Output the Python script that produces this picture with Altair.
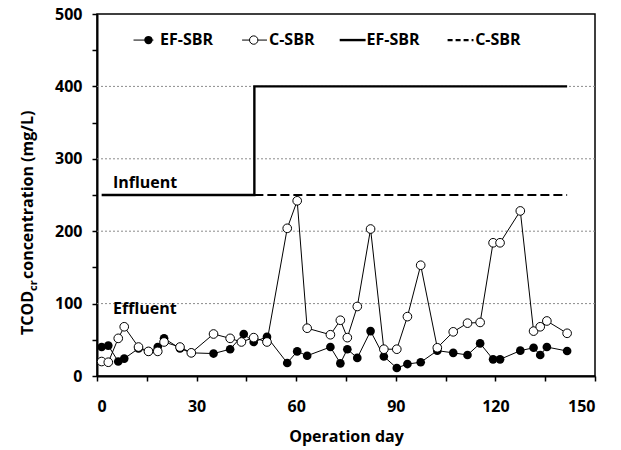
import altair as alt
import pandas as pd

# ---- data ----
ef_days = [1.4, 3.4, 6.4, 8.2, 12.5, 15.5, 18.3, 20.2, 25.0, 28.4, 35.1, 40.1, 44.2, 47.2, 51.2,
           57.3, 60.3, 63.3, 70.3, 73.3, 75.4, 78.4, 82.4, 86.4, 90.3, 93.5, 97.5, 102.5, 107.3,
           111.6, 115.4, 119.3, 121.4, 127.5, 131.5, 133.5, 135.5, 141.6]
ef_vals = [40, 42, 20, 24, 38, 34, 40, 52, 38, 32, 31, 37, 58, 47, 54,
           18, 34, 28, 40, 17.5, 37, 25, 62, 27, 11, 16.5, 19, 35, 32,
           29, 45, 23, 23, 35, 39, 29, 40, 34.5]

c_days = [1.4, 3.4, 6.4, 8.2, 12.5, 15.5, 18.3, 20.2, 25.0, 28.4, 35.1, 40.1, 43.5, 47.2, 51.2,
          57.3, 60.3, 63.3, 70.3, 73.3, 75.4, 78.4, 82.4, 86.4, 90.3, 93.5, 97.5, 102.5, 107.3,
          111.6, 115.4, 119.3, 121.4, 127.5, 131.5, 133.5, 135.5, 141.6]
c_vals = [20, 19, 52, 68, 40, 34, 34, 47, 40, 32, 58, 52, 47, 53, 47,
          204, 242, 66, 57, 77, 53, 96, 203, 37, 37, 82, 153, 39, 61,
          73, 74, 184, 184, 228, 62, 68, 76, 59]

inf_ef_days = [1.4, 47.4, 141.6]
inf_ef_vals = [250, 400, 400]
inf_c_days = [47.4, 141.6]
inf_c_vals = [250, 250]

grid_vals = [100, 200, 300, 400]
x_ticks = [0, 15, 30, 45, 60, 75, 90, 105, 120, 135, 150]
y_ticks = [0, 50, 100, 150, 200, 250, 300, 350, 400, 450, 500]

FONT = "Open Sans"
FS = 16

ef_df = pd.DataFrame({"day": ef_days, "val": ef_vals})
c_df = pd.DataFrame({"day": c_days, "val": c_vals})
inf_ef_df = pd.DataFrame({"day": inf_ef_days, "val": inf_ef_vals})
inf_c_df = pd.DataFrame({"day": inf_c_days, "val": inf_c_vals})
grid_df = pd.DataFrame({"val": grid_vals})

X = alt.X("day:Q",
          scale=alt.Scale(domain=[0, 150], nice=False, zero=False),
          axis=alt.Axis(values=x_ticks,
                        labelExpr="datum.value % 30 == 0 ? datum.label : ''",
                        title="Operation day", grid=False))
Y = alt.Y("val:Q",
          scale=alt.Scale(domain=[0, 500], nice=False),
          axis=alt.Axis(values=y_ticks,
                        labelExpr="datum.value % 100 == 0 ? datum.label : ''",
                        title=None, grid=False))

grid = alt.Chart(grid_df).mark_rule(color="#8c8c8c", strokeDash=[2, 2], strokeWidth=1).encode(y=Y)

inf_c = alt.Chart(inf_c_df).mark_line(color="black", strokeWidth=2.2, strokeDash=[9, 4]).encode(x=X, y=Y)
inf_ef = alt.Chart(inf_ef_df).mark_line(color="black", strokeWidth=2.4, interpolate="step-after").encode(x=X, y=Y)

ef_line = alt.Chart(ef_df).mark_line(color="black", strokeWidth=1).encode(x=X, y=Y)
c_line = alt.Chart(c_df).mark_line(color="black", strokeWidth=1).encode(x=X, y=Y)
ef_pts = alt.Chart(ef_df).mark_point(filled=True, color="black", size=75, opacity=1).encode(x=X, y=Y)
c_pts = alt.Chart(c_df).mark_point(shape="circle", fill="white", stroke="black", strokeWidth=1,
                                   size=75, opacity=1, fillOpacity=1).encode(x=X, y=Y)

# annotations
ann_df = pd.DataFrame({"day": [4.8, 4.8], "val": [266, 92], "t": ["Influent", "Effluent"]})
ann = alt.Chart(ann_df).mark_text(align="left", baseline="middle", font=FONT, fontWeight="bold",
                                  fontSize=FS, color="black").encode(x=X, y=Y, text="t:N")

# custom legend (in data coordinates)
LY = 464
leg_line_df = pd.DataFrame({"day": [11.0, 17.0, 43.7, 51.2],
                            "val": [LY] * 4, "g": ["a", "a", "b", "b"]})
leg_solid_df = pd.DataFrame({"day": [73.1, 80.9], "val": [LY, LY]})
leg_dash_df = pd.DataFrame({"day": [105.6, 113.4], "val": [LY, LY]})
leg_ef_pt = pd.DataFrame({"day": [15.5], "val": [LY]})
leg_c_pt = pd.DataFrame({"day": [47.2], "val": [LY]})
leg_txt_df = pd.DataFrame({"day": [19.0, 51.8, 81.2, 113.9], "val": [LY] * 4,
                           "t": ["EF-SBR", "C-SBR", "EF-SBR", "C-SBR"]})

leg_lines_thin = alt.Chart(leg_line_df).mark_line(color="black", strokeWidth=1).encode(
    x=X, y=Y, detail="g:N")
leg_lines_thick = alt.Chart(leg_solid_df).mark_line(color="black", strokeWidth=2.4).encode(x=X, y=Y)
leg_dash = alt.Chart(leg_dash_df).mark_line(color="black", strokeWidth=2.2, strokeDash=[5, 3]).encode(x=X, y=Y)
leg_p1 = alt.Chart(leg_ef_pt).mark_point(filled=True, color="black", size=70, opacity=1).encode(x=X, y=Y)
leg_p2 = alt.Chart(leg_c_pt).mark_point(fill="white", stroke="black", strokeWidth=1, size=70,
                                        opacity=1, fillOpacity=1).encode(x=X, y=Y)
leg_txt = alt.Chart(leg_txt_df).mark_text(align="left", baseline="middle", font=FONT, fontWeight="bold",
                                          fontSize=FS, color="black").encode(x=X, y=Y, text="t:N")

# y-axis title with subscript, built from text pieces
one = pd.DataFrame({"k": [0]})
t1 = alt.Chart(one).mark_text(angle=270, align="right", baseline="alphabetic", font=FONT,
                              fontWeight="bold", fontSize=FS, color="black").encode(
    x=alt.value(-64), y=alt.value(277), text=alt.value("TCOD"))
t2 = alt.Chart(one).mark_text(angle=270, align="left", baseline="alphabetic", font=FONT,
                              fontWeight="bold", fontSize=11, color="black").encode(
    x=alt.value(-60), y=alt.value(277), text=alt.value("cr"))
t3 = alt.Chart(one).mark_text(angle=270, align="left", baseline="alphabetic", font=FONT,
                              fontWeight="bold", fontSize=FS, color="black").encode(
    x=alt.value(-64), y=alt.value(265), text=alt.value(" concentration (mg/L)"))

chart = alt.layer(
    grid, inf_c, inf_ef, ef_line, c_line, ef_pts, c_pts, ann,
    leg_lines_thin, leg_lines_thick, leg_dash, leg_p1, leg_p2, leg_txt,
    t1, t2, t3
).properties(
    width=498, height=362,
    padding={"left": 97, "top": 14, "right": 26, "bottom": 74},
    autosize=alt.AutoSizeParams(type="none"),
    background="white",
).configure_view(
    stroke="black", strokeWidth=1.5
).configure_axis(
    labelFont=FONT, labelFontWeight="bold", labelFontSize=FS, labelColor="black",
    titleFont=FONT, titleFontWeight="bold", titleFontSize=FS, titleColor="black",
    domainColor="black", domainWidth=2, tickColor="black", tickWidth=1.5, tickSize=5,
    labelPadding=6,
).configure_axisX(
    labelPadding=17, titlePadding=14
).configure_axisY(
    labelPadding=10
)

chart.save("out.html", embed_options={"renderer": "svg", "actions": False})
